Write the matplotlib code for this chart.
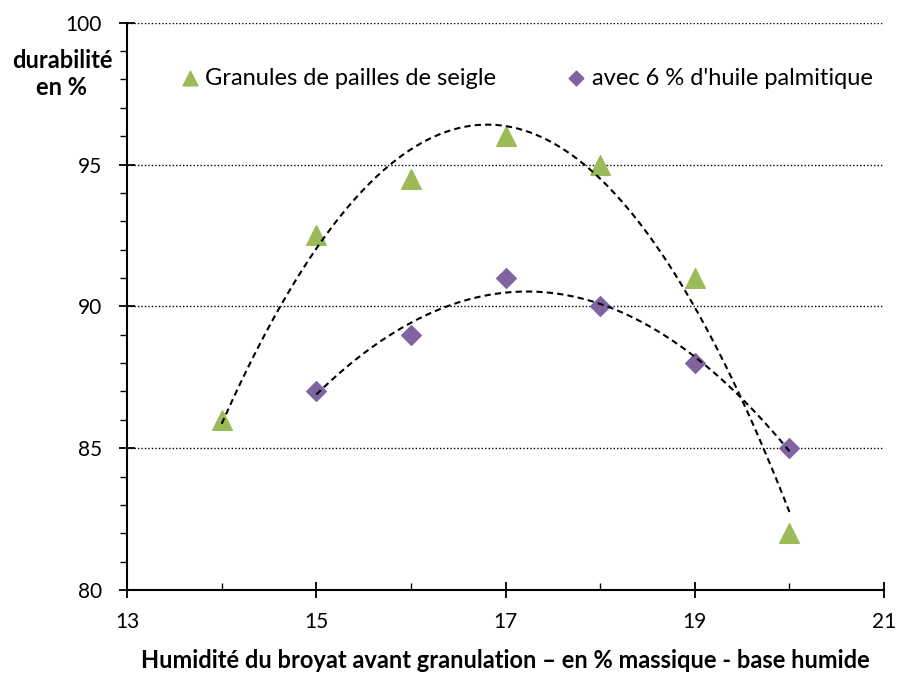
import numpy as np
import matplotlib.pyplot as plt
from matplotlib.ticker import MultipleLocator

plt.rcParams['font.family'] = ['Lato', 'DejaVu Sans']

# data
x_seigle = [14, 15, 16, 17, 18, 19, 20]
y_seigle = [86, 92.5, 94.5, 96, 95, 91, 82]
x_huile = [15, 16, 17, 18, 19, 20]
y_huile = [87, 89, 91, 90, 88, 85]

green = '#9bbb59'
purple = '#8064a2'

fig = plt.figure(figsize=(8.97, 6.74), dpi=100)
ax = fig.add_axes([0.1416, 0.1246, 0.8440, 0.8417])

ax.scatter(x_seigle, y_seigle, marker='^', s=200, color=green, zorder=3,
           label='Granules de pailles de seigle')
ax.scatter(x_huile, y_huile, marker='D', s=100, color=purple, zorder=3,
           label="avec 6 % d'huile palmitique")

# polynomial trendlines, order 2 (Excel style)
for xs, ys in [(x_seigle, y_seigle), (x_huile, y_huile)]:
    p = np.polyfit(xs, ys, 2)
    xx = np.linspace(min(xs), max(xs), 200)
    ax.plot(xx, np.polyval(p, xx), ls=(0, (3, 2)), color='black', lw=1.5, zorder=4)

ax.set_xlim(13, 21)
ax.set_ylim(80, 100)
ax.set_xticks([13, 15, 17, 19, 21])
ax.set_yticks([80, 85, 90, 95, 100])
ax.xaxis.set_minor_locator(MultipleLocator(1))
ax.yaxis.set_minor_locator(MultipleLocator(1))
ax.tick_params(axis='x', which='major', direction='inout', length=12, width=1.3, labelsize=15, pad=10)
ax.tick_params(axis='x', which='minor', direction='in', length=5, width=1)
ax.tick_params(axis='y', which='major', direction='inout', length=12, width=1.3, labelsize=15, pad=12)
ax.tick_params(axis='y', which='minor', direction='out', length=5, width=1)

for v in [85, 90, 95, 100]:
    ax.axhline(v, color='black', ls=(0, (1, 1.5)), lw=1, zorder=1)

for s in ['top', 'right']:
    ax.spines[s].set_visible(False)
for s in ['left', 'bottom']:
    ax.spines[s].set_linewidth(1.5)

ax.set_xlabel('Humidité du broyat avant granulation – en % massique - base humide',
              fontsize=17, fontweight='bold', labelpad=12)
fig.text(0.069, 0.890, 'durabilité\nen %', ha='center', va='center',
         fontsize=17, fontweight='bold', linespacing=1.2)

ax.legend(loc='center left', bbox_to_anchor=(0.0705, 0.9025), ncol=2, frameon=False,
          fontsize=17, handlelength=0.8, handletextpad=0.25, columnspacing=3.0,
          borderpad=0, borderaxespad=0, markerscale=0.75)

fig.savefig('out.png', dpi=100)
